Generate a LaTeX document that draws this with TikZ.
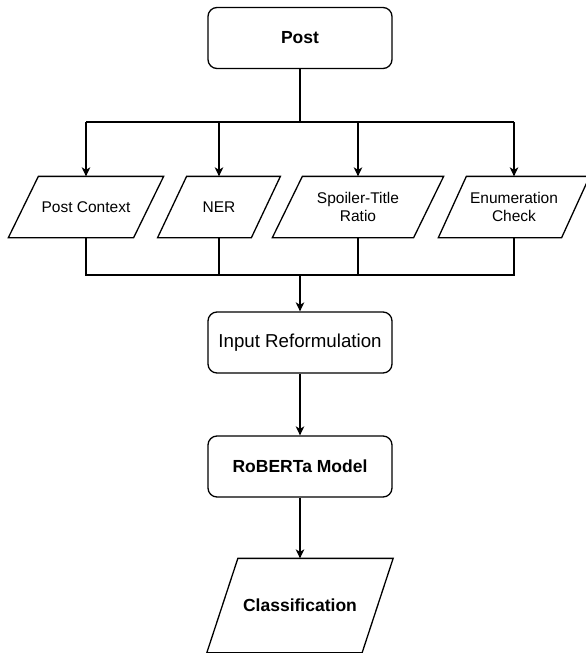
\documentclass[tikz,border=0pt]{standalone}
\usepackage{fontspec}
\setmainfont{Liberation Sans}
\usetikzlibrary{arrows.meta}
\newcommand\drawpara[2]{%
  \draw ([xshift=#2]#1.north west) -- ([xshift=#2]#1.north east) -- ([xshift=-#2]#1.south east) -- ([xshift=-#2]#1.south west) -- cycle;}
\begin{document}
\begin{tikzpicture}[x=1pt,y=-1pt, line width=1.3pt,
  box/.style={draw, rounded corners=9pt, minimum width=184pt, minimum height=61pt, inner sep=0pt, align=center},
  para/.style={minimum height=60pt, inner sep=0pt, align=center, font=\fontsize{15.5}{18.5}\selectfont},
  boldtext/.style={font=\fontsize{17.5}{21}\selectfont\bfseries},
  arr/.style={-{Stealth[length=9pt,width=8.5pt,inset=2.5pt]}}
]
\useasboundingbox (0,0) rectangle (586,653);

\node[box,boldtext] (post) at (300,38) {Post};

\node[para, minimum width=124pt] (pc) at (86,207) {Post Context};
\node[para, minimum width=92.5pt] (ner) at (219,207) {NER};
\node[para, minimum width=140pt] (spoiler) at (358,207) {Spoiler-Title\\Ratio};
\node[para, minimum width=122pt] (enum) at (514,207) {Enumeration\\Check};
\drawpara{pc}{15pt}
\drawpara{ner}{14.5pt}
\drawpara{spoiler}{15pt}
\drawpara{enum}{14pt}

\node[box, font=\fontsize{18.7}{22}\selectfont] (input) at (300,342.5) {Input Reformulation};
\node[box,boldtext] (roberta) at (300,466.5) {RoBERTa Model};
\node[para, boldtext, minimum width=154pt, minimum height=93pt] (cls) at (300,605.5) {Classification};
\drawpara{cls}{15.5pt}

\coordinate (split) at (300,122);
\coordinate (join) at (300,275);

\draw (post.south) -- (split);
\draw (pc.north |- split) -- (enum.north |- split);
\draw[arr] (pc.north |- split) -- (pc.north);
\draw[arr] (ner.north |- split) -- (ner.north);
\draw[arr] (spoiler.north |- split) -- (spoiler.north);
\draw[arr] (enum.north |- split) -- (enum.north);

\draw (pc.south) -- (pc.south |- join) -- (enum.south |- join) -- (enum.south);
\draw (ner.south) -- (ner.south |- join);
\draw (spoiler.south) -- (spoiler.south |- join);
\draw[arr] (join) -- (input.north);

\draw[arr] (input.south) -- (roberta.north);
\draw[arr] (roberta.south) -- (cls.north);
\end{tikzpicture}
\end{document}
